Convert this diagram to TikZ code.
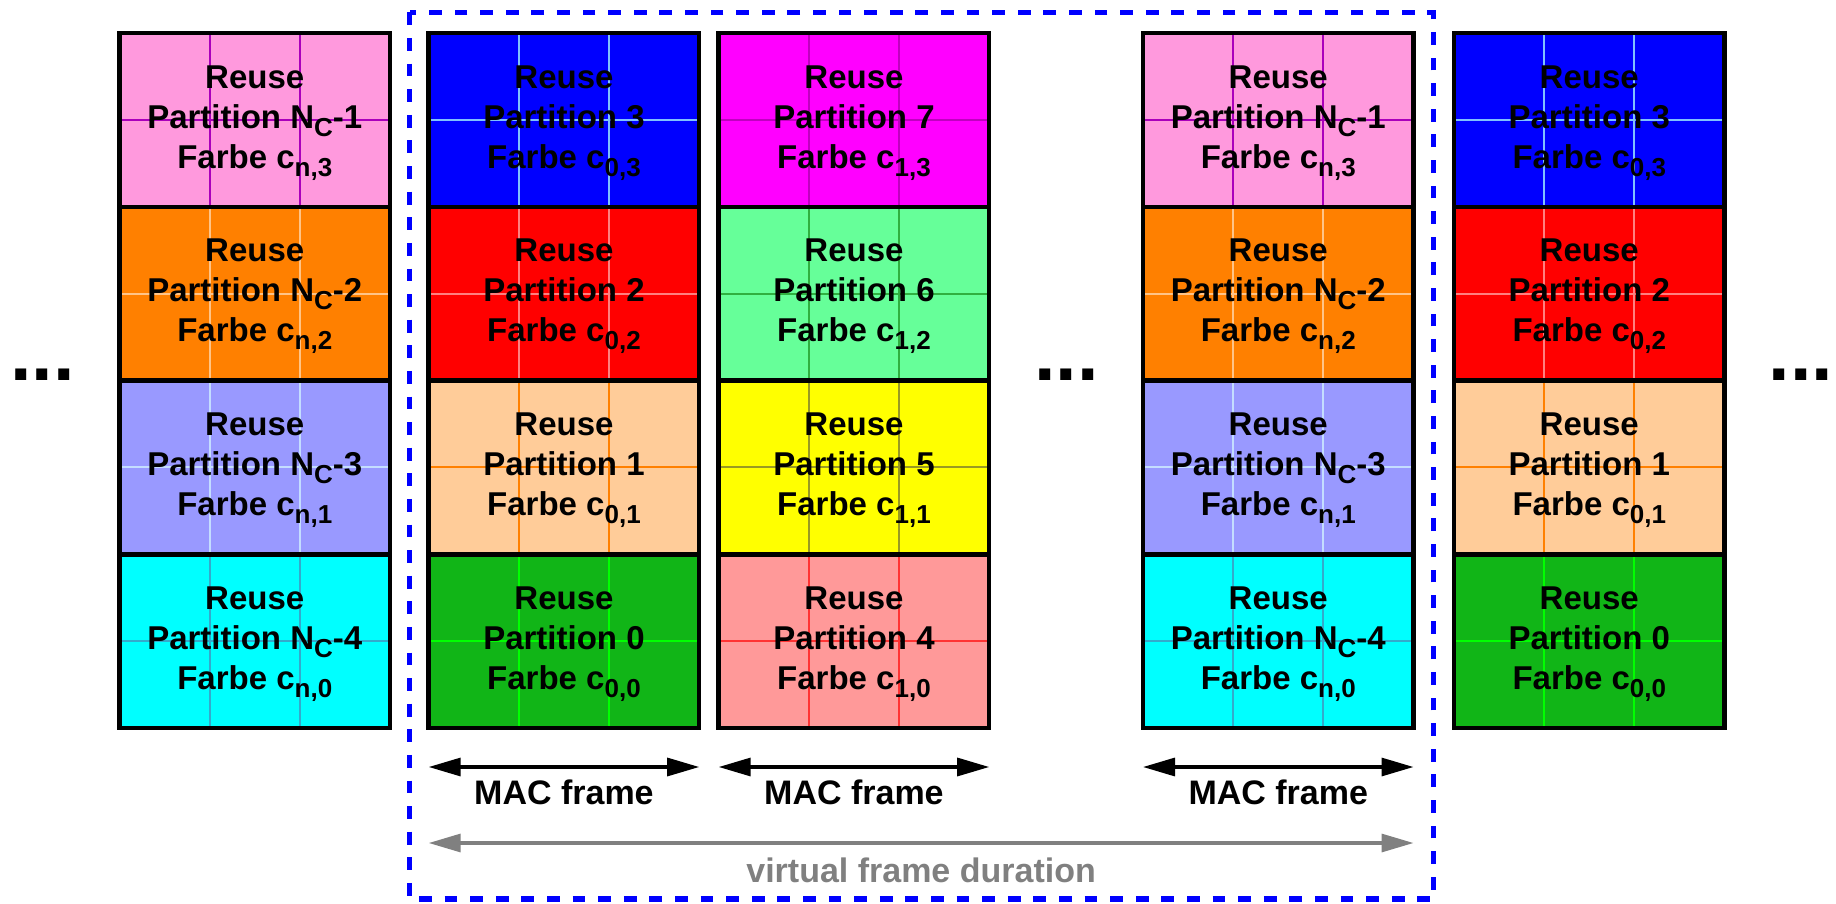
\documentclass[tikz,border=0pt]{standalone}
\usepackage{fontspec}
\setmainfont{Liberation Sans}
\usetikzlibrary{arrows.meta,calc}

% cell fills
\definecolor{cPink}{HTML}{FF99DD}
\definecolor{cOrange}{HTML}{FF8000}
\definecolor{cLav}{HTML}{9999FF}
\definecolor{cCyan}{HTML}{00FFFF}
\definecolor{cBlue}{HTML}{0000FF}
\definecolor{cRed}{HTML}{FF0000}
\definecolor{cPeach}{HTML}{FFCC99}
\definecolor{cGreen}{HTML}{11B517}
\definecolor{cMag}{HTML}{FF00FF}
\definecolor{cLgreen}{HTML}{66FF99}
\definecolor{cYellow}{HTML}{FFFF00}
\definecolor{cSalmon}{HTML}{FF9999}
% grid lines inside the cells
\definecolor{lPink}{HTML}{AA00BB}
\definecolor{lOrange}{HTML}{FFC488}
\definecolor{lLav}{HTML}{C4DDFF}
\definecolor{lCyan}{HTML}{33AACC}
\definecolor{lBlue}{HTML}{80C0FF}
\definecolor{lRed}{HTML}{FF8080}
\definecolor{lPeach}{HTML}{FF8000}
\definecolor{lGreen}{HTML}{00FF00}
\definecolor{lMag}{HTML}{C000C0}
\definecolor{lLgreen}{HTML}{30B040}
\definecolor{lYellow}{HTML}{999922}
\definecolor{lSalmon}{HTML}{FF3333}
\definecolor{frameblue}{HTML}{0000FF}
\definecolor{durgray}{HTML}{808080}

\newcommand\lowidx[1]{\raisebox{-4pt}{\fontsize{13}{13}\selectfont #1}}

\tikzset{
  cell/.style 2 args={draw=black, line width=2.25pt, fill=#1,
    minimum width=135.25pt, minimum height=86.875pt, inner sep=0pt, outer sep=0pt,
    path picture={
      \draw[draw=#2, line width=1.1pt]
        (path picture bounding box.west) -- (path picture bounding box.east)
        ($(path picture bounding box.south west)!1/3!(path picture bounding box.south east)$)
          -- ($(path picture bounding box.north west)!1/3!(path picture bounding box.north east)$)
        ($(path picture bounding box.south west)!2/3!(path picture bounding box.south east)$)
          -- ($(path picture bounding box.north west)!2/3!(path picture bounding box.north east)$);
    }},
  celltext/.style={font=\bfseries\fontsize{16.5}{20}\selectfont, align=center, inner sep=0pt},
  lbl/.style={font=\bfseries\fontsize{17}{20}\selectfont, inner sep=0pt},
  dots/.style={font=\bfseries\fontsize{38.7}{40}\selectfont, inner sep=0pt, anchor=base},
  macarrow/.style={draw=black, line width=1.6pt, {Triangle[length=16pt,width=9pt]}-{Triangle[length=16pt,width=9pt]}},
  durarrow/.style={draw=durgray, line width=1.6pt, {Triangle[length=16pt,width=9pt]}-{Triangle[length=16pt,width=9pt]}},
  vframe/.style={draw=frameblue, line width=2.8pt, dash pattern=on 6.4pt off 6.4pt}
}

\begin{document}
\begin{tikzpicture}[x=0.5pt,y=-0.5pt]
\useasboundingbox (0,0) rectangle (1836,904);

% virtual frame boundary
\coordinate (vf-nw) at (409.5,12.5);
\coordinate (vf-se) at (1433.5,899);
\draw[vframe] (vf-nw) rectangle (vf-se);

% column a: partitions N_C-1 ... N_C-4
\foreach \rw/\fc/\lc/\pn/\ci in {
  0/cPink/lPink/{N\lowidx{C}-1}/{n,3},
  1/cOrange/lOrange/{N\lowidx{C}-2}/{n,2},
  2/cLav/lLav/{N\lowidx{C}-3}/{n,1},
  3/cCyan/lCyan/{N\lowidx{C}-4}/{n,0}}{
  \node[cell={\fc}{\lc}] (a\rw) at ({119.5+135.25},{33+173.75*(\rw+0.5)}) {};
  \node[celltext] (a\rw-t) at ([yshift=-1.5pt]a\rw.center) {Reuse\\Partition \pn\\Farbe c\lowidx{\ci}};
}
% column b: partitions 3 ... 0
\foreach \rw/\fc/\lc/\pn/\ci in {
  0/cBlue/lBlue/3/{0,3},
  1/cRed/lRed/2/{0,2},
  2/cPeach/lPeach/1/{0,1},
  3/cGreen/lGreen/0/{0,0}}{
  \node[cell={\fc}{\lc}] (b\rw) at ({428.7+135.25},{33+173.75*(\rw+0.5)}) {};
  \node[celltext] (b\rw-t) at ([yshift=-1.5pt]b\rw.center) {Reuse\\Partition \pn\\Farbe c\lowidx{\ci}};
}
% column c: partitions 7 ... 4
\foreach \rw/\fc/\lc/\pn/\ci in {
  0/cMag/lMag/7/{1,3},
  1/cLgreen/lLgreen/6/{1,2},
  2/cYellow/lYellow/5/{1,1},
  3/cSalmon/lSalmon/4/{1,0}}{
  \node[cell={\fc}{\lc}] (c\rw) at ({718.7+135.25},{33+173.75*(\rw+0.5)}) {};
  \node[celltext] (c\rw-t) at ([yshift=-1.5pt]c\rw.center) {Reuse\\Partition \pn\\Farbe c\lowidx{\ci}};
}
% column d: partitions N_C-1 ... N_C-4
\foreach \rw/\fc/\lc/\pn/\ci in {
  0/cPink/lPink/{N\lowidx{C}-1}/{n,3},
  1/cOrange/lOrange/{N\lowidx{C}-2}/{n,2},
  2/cLav/lLav/{N\lowidx{C}-3}/{n,1},
  3/cCyan/lCyan/{N\lowidx{C}-4}/{n,0}}{
  \node[cell={\fc}{\lc}] (d\rw) at ({1143+135.25},{33+173.75*(\rw+0.5)}) {};
  \node[celltext] (d\rw-t) at ([yshift=-1.5pt]d\rw.center) {Reuse\\Partition \pn\\Farbe c\lowidx{\ci}};
}
% column e: partitions 3 ... 0
\foreach \rw/\fc/\lc/\pn/\ci in {
  0/cBlue/lBlue/3/{0,3},
  1/cRed/lRed/2/{0,2},
  2/cPeach/lPeach/1/{0,1},
  3/cGreen/lGreen/0/{0,0}}{
  \node[cell={\fc}{\lc}] (e\rw) at ({1454+135.25},{33+173.75*(\rw+0.5)}) {};
  \node[celltext] (e\rw-t) at ([yshift=-1.5pt]e\rw.center) {Reuse\\Partition \pn\\Farbe c\lowidx{\ci}};
}

% continuation dots
\node[dots] (dots-l) at (42.5,380) {...};
\node[dots] (dots-m) at (1066.5,380) {...};
\node[dots] (dots-r) at (1801,380) {...};

% MAC frame spans
\foreach \cl in {b,c,d}{
  \coordinate (\cl-l) at ([yshift=-19.5pt]\cl3.south west);
  \coordinate (\cl-r) at ([yshift=-19.5pt]\cl3.south east);
  \draw[macarrow] (\cl-l) -- node[lbl, anchor=base, yshift=-18.5pt] (\cl-mac) {MAC frame} (\cl-r);
}

% virtual frame duration
\coordinate (v-l) at ([yshift=-57.5pt]b3.south west);
\coordinate (v-r) at ([yshift=-57.5pt]d3.south east);
\draw[durarrow] (v-l) -- node[lbl, text=durgray, anchor=base, yshift=-19.5pt] (v-dur) {virtual frame duration} (v-r);
\end{tikzpicture}
\end{document}
